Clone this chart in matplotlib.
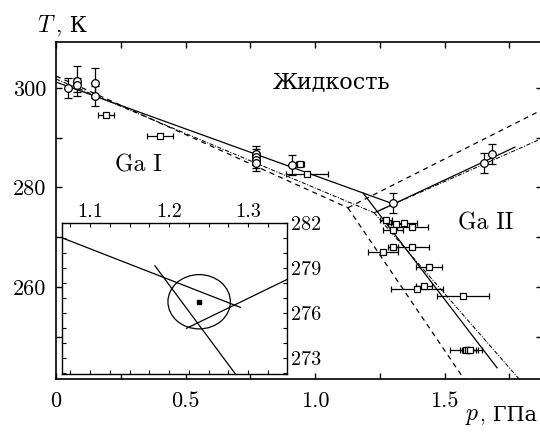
import matplotlib
matplotlib.use("Agg")
import matplotlib.pyplot as plt
from matplotlib.patches import Ellipse
from matplotlib.ticker import FixedLocator, FixedFormatter

plt.rcParams['mathtext.fontset'] = 'cm'
FAM = ['cmr10', 'DejaVu Serif']

# ---------------- data ----------------
# open circles with vertical error bars
circ_p = [0.046, 0.081, 0.081, 0.151, 0.151, 0.772, 0.772, 0.772, 0.772, 0.911, 1.301, 1.653, 1.683]
circ_T = [300.0, 301.4, 300.6, 301.0, 298.4, 286.8, 286.1, 285.5, 284.9, 284.5, 276.9, 284.9, 286.7]
circ_err = [2.0, 3.0, 1.5, 3.0, 2.0, 1.6, 1.6, 1.6, 1.6, 2.0, 2.0, 2.0, 2.0]

# open squares with horizontal error bars
sq_p = [0.193, 0.402, 0.942, 0.969, 1.274, 1.313, 1.344, 1.375, 1.301, 1.301, 1.375, 1.263,
        1.440, 1.421, 1.394, 1.571, 1.583, 1.591, 1.599]
sq_T = [294.6, 290.4, 284.7, 282.7, 273.4, 272.6, 272.8, 272.0, 271.4, 268.0, 268.0, 267.0,
        264.0, 260.2, 259.6, 258.2, 247.3, 247.3, 247.3]
sq_xerr = [0.031, 0.05, 0.015, 0.08, 0.023, 0.03, 0.05, 0.06, 0.04, 0.02, 0.065, 0.058,
           0.05, 0.03, 0.1, 0.1, 0.06, 0.03, 0.03]

# phase-boundary lines
solid_I_p, solid_I_T = [0.0, 1.301], [301.2, 276.7]
solid_II_p, solid_II_T = [1.239, 1.772], [275.1, 288.1]
solid_I_II_p, solid_I_II_T = [1.185, 1.703], [278.9, 243.7]

dash_I_p, dash_I_T = [0.0, 1.127], [302.4, 275.9]
dash_II_p, dash_II_T = [1.127, 1.861], [275.9, 295.2]
dash_I_II_p, dash_I_II_T = [1.127, 1.576], [275.9, 241.4]

dd_I_p, dd_I_T = [0.0, 1.228], [301.8, 274.9]
dd_II_p, dd_II_T = [1.228, 1.861], [274.9, 289.5]
dd_I_II_p, dd_I_II_T = [1.228, 1.792], [274.9, 241.2]

# inset
in_I_p, in_I_T = [1.064, 1.290], [281.04, 276.4]
in_I_II_p, in_I_II_T = [1.182, 1.2855], [279.17, 271.84]
in_II_p, in_II_T = [1.222, 1.351], [275.0, 278.3]
triple_p, triple_T = [1.238], [276.77]
ell_w, ell_h = 0.079, 3.62

# ticks
x_major = [0.0, 0.5, 1.0, 1.5]
x_labels = ['0', '0.5', '1.0', '1.5']
x_minor = [0.25, 0.75, 1.25, 1.75]
y_major = [260, 280, 300]
y_labels = ['260', '280', '300']
y_minor = [250, 270, 290]

in_x_major = [1.1, 1.2, 1.3]
in_x_labels = ['1.1', '1.2', '1.3']
in_x_minor = [1.075, 1.125, 1.15, 1.175, 1.225, 1.25, 1.275, 1.325]
in_y_major = [273, 276, 279, 282]
in_y_labels = ['273', '276', '279', '282']
in_y_minor = [272, 274, 275, 277, 278, 280, 281]

# ---------------- figure ----------------
W, H = 540, 432
fig = plt.figure(figsize=(5.4, 4.32), dpi=100)
L, R, T_, B = 56, 541.5, 42, 379
ax = fig.add_axes([L / W, 1 - B / H, (R - L) / W, (B - T_) / H])
ax.set_xlim(0, (R - L) / 259.0)
ax.set_ylim(300 - (B - 88) / 4.97, 300 + (88 - T_) / 4.97)

lw = 0.9
ax.plot(solid_I_p, solid_I_T, color='k', lw=lw)
ax.plot(solid_II_p, solid_II_T, color='k', lw=lw)
ax.plot(solid_I_II_p, solid_I_II_T, color='k', lw=lw)
for px, ty in [(dash_I_p, dash_I_T), (dash_II_p, dash_II_T), (dash_I_II_p, dash_I_II_T)]:
    ax.plot(px, ty, color='k', lw=lw, dashes=(4, 3.5))
for px, ty in [(dd_I_p, dd_I_T), (dd_II_p, dd_II_T), (dd_I_II_p, dd_I_II_T)]:
    ax.plot(px, ty, color='k', lw=0.75, dashes=(4, 1.5, 1, 1.5))

ax.errorbar(circ_p, circ_T, yerr=circ_err, fmt='o', mfc='white', mec='k', mew=0.9,
            ms=5.5, ecolor='k', elinewidth=0.9, capsize=3, capthick=0.9, zorder=5)
ax.errorbar(sq_p, sq_T, xerr=sq_xerr, fmt='s', mfc='white', mec='k', mew=0.9,
            ms=3.8, ecolor='k', elinewidth=0.9, capsize=2.5, capthick=0.9, zorder=5)

for s in ax.spines.values():
    s.set_linewidth(1.2)
ax.xaxis.set_major_locator(FixedLocator(x_major))
ax.xaxis.set_major_formatter(FixedFormatter(x_labels))
ax.xaxis.set_minor_locator(FixedLocator(x_minor))
ax.yaxis.set_major_locator(FixedLocator(y_major))
ax.yaxis.set_major_formatter(FixedFormatter(y_labels))
ax.yaxis.set_minor_locator(FixedLocator(y_minor))
ax.tick_params(which='both', direction='in', top=True, right=True, length=4.5, width=1.0)
ax.tick_params(axis='x', which='major', pad=9)
ax.tick_params(axis='y', which='major', pad=7)
for lab in ax.get_xticklabels() + ax.get_yticklabels():
    lab.set_family(FAM)
    lab.set_fontsize(16)

# text labels
ax.text(0.838, 300.0, 'Жидкость', family=FAM, fontsize=16, va='baseline', ha='left')
ax.text(0.228, 283.1, 'Ga I', family=FAM, fontsize=17, va='baseline', ha='left')
ax.text(1.552, 271.5, 'Ga II', family=FAM, fontsize=17, va='baseline', ha='left')

fig.text(37 / W, 1 - 32 / H, '$T$', fontsize=17, va='baseline', ha='left')
fig.text(56 / W, 1 - 32 / H, ', К', family=FAM, fontsize=16, va='baseline', ha='left')
fig.text(465 / W, 1 - 420 / H, '$p$', fontsize=17, va='baseline', ha='left')
fig.text(480 / W, 1 - 420 / H, ', ГПа', family=FAM, fontsize=15, va='baseline', ha='left')

# ---------------- inset ----------------
iL, iR, iT, iB = 61.7, 287.3, 223.3, 374.0
axi = fig.add_axes([iL / W, 1 - iB / H, (iR - iL) / W, (iB - iT) / H])
axi.set_facecolor('white')
axi.set_xlim(1.064, 1.064 + (iR - iL) / 790.0)
axi.set_ylim(282 - (iB - iT) / 15.0, 282)
axi.plot(in_I_p, in_I_T, color='k', lw=0.9)
axi.plot(in_I_II_p, in_I_II_T, color='k', lw=0.9)
axi.plot(in_II_p, in_II_T, color='k', lw=0.9)
axi.add_patch(Ellipse((triple_p[0], triple_T[0]), ell_w, ell_h, fill=False, ec='k', lw=0.9))
axi.plot(triple_p, triple_T, 's', color='k', ms=3.2)

for s in axi.spines.values():
    s.set_linewidth(1.0)
axi.xaxis.set_major_locator(FixedLocator(in_x_major))
axi.xaxis.set_major_formatter(FixedFormatter(in_x_labels))
axi.xaxis.set_minor_locator(FixedLocator(in_x_minor))
axi.yaxis.set_major_locator(FixedLocator(in_y_major))
axi.yaxis.set_major_formatter(FixedFormatter(in_y_labels))
axi.yaxis.set_minor_locator(FixedLocator(in_y_minor))
axi.tick_params(which='both', direction='in', top=True, bottom=True, left=True, right=True,
                labeltop=True, labelbottom=False, labelright=True, labelleft=False,
                length=3, width=0.8)
axi.tick_params(axis='x', pad=2)
axi.tick_params(axis='y', pad=2.5)
for lab in axi.get_xticklabels() + axi.get_yticklabels():
    lab.set_family(FAM)
    lab.set_fontsize(14.5)

fig.savefig('out.png', dpi=100)
